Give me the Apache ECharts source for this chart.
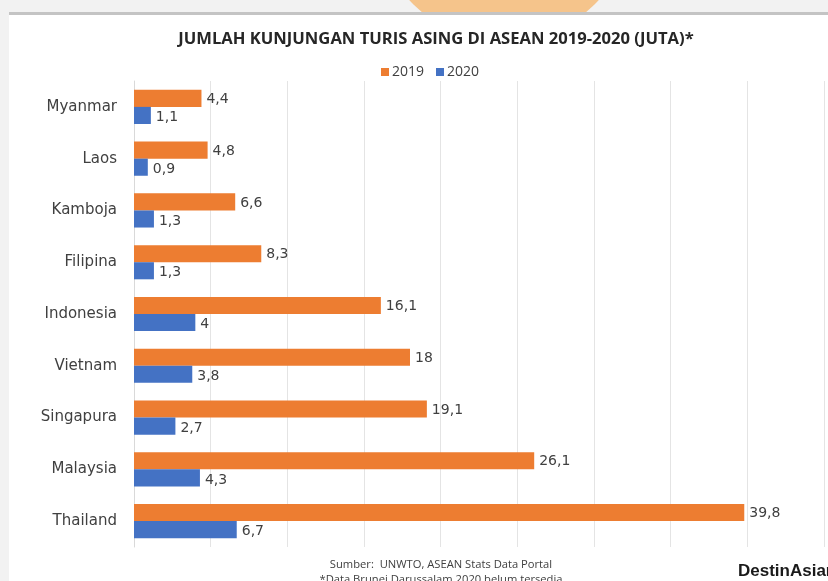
<!DOCTYPE html>
<html>
<head>
<meta charset="utf-8">
<script src="https://cdn.jsdelivr.net/npm/echarts@6/dist/echarts.min.js"></script>
<style>
html,body{margin:0;padding:0;background:#f2f2f2;}
#chart{width:828px;height:581px;}
</style>
</head>
<body>
<div id="chart"></div>
<script>
const categories = ["Myanmar","Laos","Kamboja","Filipina","Indonesia","Vietnam","Singapura","Malaysia","Thailand"];
const values2019 = [4.4, 4.8, 6.6, 8.3, 16.1, 18, 19.1, 26.1, 39.8];
const values2020 = [1.1, 0.9, 1.3, 1.3, 4, 3.8, 2.7, 4.3, 6.7];
const seriesNames = ["2019","2020"];
const titleText = "JUMLAH KUNJUNGAN TURIS ASING DI ASEAN 2019-2020 (JUTA)*";
const sourceText = "Sumber:  UNWTO, ASEAN Stats Data Portal";
const noteText = "*Data Brunei Darussalam 2020 belum tersedia";
const brandText = "DestinAsian";

const condensed = "'Liberation Sans Narrow','Open Sans',sans-serif";
const fmt = v => String(v).replace('.', ',');

const chart = echarts.init(document.getElementById('chart'), null, {renderer:'canvas'});
chart.setOption({
  backgroundColor: '#f2f2f2',
  animation: false,
  title: {
    text: titleText,
    left: 431, textAlign: 'center', top: 26,
    textStyle: {fontFamily: condensed, fontWeight: 'bold', fontSize: 16.6, color: '#262626'}
  },
  legend: {
    data: seriesNames,
    left: 376, top: 60,
    itemWidth: 8, itemHeight: 8, itemGap: 12,
    icon: 'rect',
    textStyle: {fontFamily: condensed, fontSize: 14, color: '#404040', padding: [0,0,0,-2]}
  },
  graphic: [
    {type:'circle', shape:{cx:504, cy:-86, r:128}, style:{fill:'#f5c48b'}, z:-12},
    {type:'rect', shape:{x:9, y:15, width:819, height:566}, style:{fill:'#ffffff'}, z:-10},
    {type:'rect', shape:{x:9, y:12, width:819, height:3}, style:{fill:'#c4c4c4'}, z:-9},
    {type:'text', x: 441, y: 559, style:{text: sourceText, fontFamily: condensed, fontSize: 11.2, fill:'#404040', textAlign:'center'}},
    {type:'text', x: 441, y: 574, style:{text: noteText, fontFamily: condensed, fontSize: 11.2, fill:'#404040', textAlign:'center'}},
    {type:'text', x: 738, y: 563, style:{text: brandText, fontFamily: "'Liberation Sans','Arial',sans-serif", fontWeight:'bold', fontSize: 17, fill:'#1a1a1a'}}
  ],
  grid: {left: 134, right: 4, top: 81, bottom: 34, containLabel: false},
  xAxis: {
    type: 'value', min: 0, max: 45, interval: 5,
    axisLabel: {show: false},
    axisLine: {show: false},
    axisTick: {show: false},
    splitLine: {show: true, lineStyle: {color: '#e4e4e4', width: 1}}
  },
  yAxis: {
    type: 'category', data: categories, inverse: true,
    axisLine: {show: true, lineStyle: {color: '#d9d9d9'}},
    axisTick: {show: false},
    axisLabel: {margin: 17, fontFamily: "'DejaVu Sans',sans-serif", fontSize: 15, color: '#404040'}
  },
  series: [
    {
      name: seriesNames[0], type: 'bar', data: values2019,
      barGap: '0%', barCategoryGap: '34%',
      itemStyle: {color: '#ed7d31'},
      label: {show: true, position: 'right', distance: 5, formatter: p => fmt(p.value),
        fontFamily: "'DejaVu Sans',sans-serif", fontSize: 14, color: '#404040', offset:[0,1]}
    },
    {
      name: seriesNames[1], type: 'bar', data: values2020,
      itemStyle: {color: '#4472c4'},
      label: {show: true, position: 'right', distance: 5, formatter: p => fmt(p.value),
        fontFamily: "'DejaVu Sans',sans-serif", fontSize: 14, color: '#404040', offset:[0,2]}
    }
  ]
});
</script>
</body>
</html>
